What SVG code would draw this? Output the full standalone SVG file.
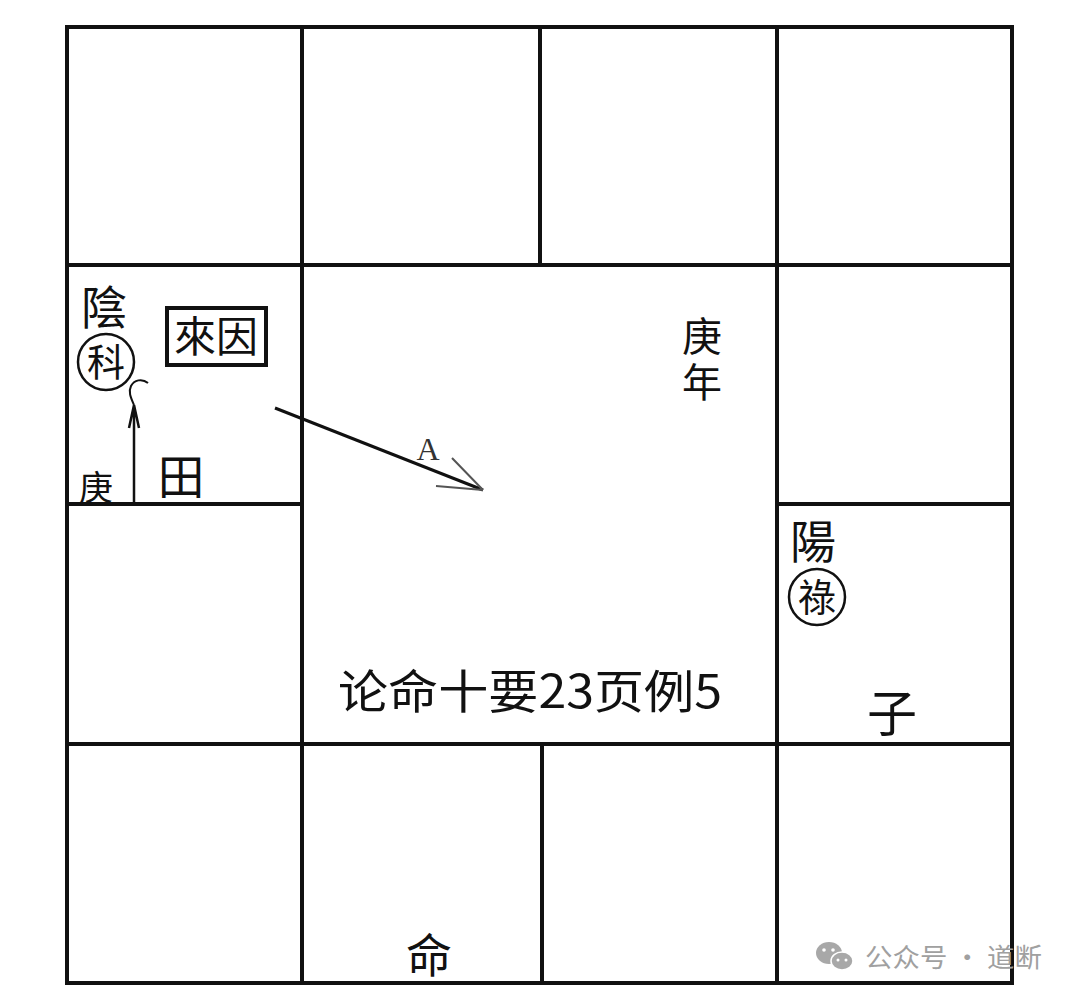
<svg xmlns="http://www.w3.org/2000/svg" width="1080" height="1003" viewBox="0 0 1080 1003">
<style>
.g{stroke:#111;stroke-width:4;fill:none;stroke-linecap:square}
.t{font-family:"Noto Sans CJK TC","Noto Sans CJK SC",sans-serif;fill:#111}
.c{stroke:#111;stroke-width:2.5;fill:none}
.w{font-family:"Noto Sans CJK SC",sans-serif;fill:#a0a0a0;font-size:26px}
.v{writing-mode:vertical-rl;letter-spacing:6px}
</style>
<rect width="1080" height="1003" fill="#fff"/>
<g id="connectors">
<path class="g" d="M67,27H1012V983H67Z"/>
<path class="g" d="M67,265H1012M67,504H302M777,504H1012M67,744H1012"/>
<path class="g" d="M302,27V983M777,27V983M540,27V265M542,744V983"/>
<path d="M275,408L483,490" stroke="#111" stroke-width="3" fill="none"/>
<path d="M452,458L483,490M436,486L483,490" stroke="#555" stroke-width="2" fill="none"/>
<path d="M134,502V405M129,428L134,405L139,428" stroke="#111" stroke-width="2.5" fill="none"/>
<path d="M134,405C131,398 128,392 131,386C134,380 142,378 148,383" stroke="#111" stroke-width="2" fill="none"/>
</g>
<g id="yin-ke">
<text class="t" x="104" y="324" font-size="46" text-anchor="middle">陰</text>
<circle class="c" cx="106" cy="362" r="28"/>
<text class="t" x="106" y="376" font-size="38" text-anchor="middle">科</text>
</g>
<g id="lai-yin">
<rect x="167" y="308" width="99" height="57" stroke="#111" stroke-width="4" fill="none"/>
<text class="t" x="216" y="352" font-size="42" text-anchor="middle">來因</text>
</g>
<g id="tian">
<text class="t" x="181" y="494" font-size="47" text-anchor="middle">田</text>
</g>
<g id="geng-small">
<text class="t" x="96" y="500" font-size="34" text-anchor="middle">庚</text>
</g>
<g id="mark-a">
<text x="428" y="460" font-family="Liberation Serif,serif" font-size="32" fill="#333" text-anchor="middle">A</text>
</g>
<g id="geng-nian">
<text class="t v" x="702" y="316" font-size="40" fill="#222">庚年</text>
</g>
<g id="yang-lu">
<text class="t" x="813" y="558" font-size="46" text-anchor="middle">陽</text>
<circle class="c" cx="817" cy="597" r="28"/>
<text class="t" x="817" y="611" font-size="38" text-anchor="middle">祿</text>
</g>
<g id="caption">
<text class="t" x="338" y="708" font-size="46" fill="#3a3a3a" textLength="384" lengthAdjust="spacingAndGlyphs">论命十要23页例5</text>
</g>
<g id="zi">
<text class="t" x="892" y="732" font-size="50" text-anchor="middle">子</text>
</g>
<g id="ming">
<text class="t" x="429" y="972" font-size="46" text-anchor="middle">命</text>
</g>
<g id="watermark">
<ellipse cx="829" cy="953" rx="13" ry="11" fill="#a8a8a8"/>
<ellipse cx="842" cy="961" rx="11" ry="9" fill="#a8a8a8" stroke="#fff" stroke-width="1.5"/>
<circle cx="824" cy="950" r="1.8" fill="#fff"/>
<circle cx="833" cy="950" r="1.8" fill="#fff"/>
<circle cx="838" cy="960" r="1.5" fill="#fff"/>
<circle cx="846" cy="960" r="1.5" fill="#fff"/>
<text class="w" x="865" y="967" textLength="177" lengthAdjust="spacingAndGlyphs">公众号 · 道断</text>
</g>
</svg>
